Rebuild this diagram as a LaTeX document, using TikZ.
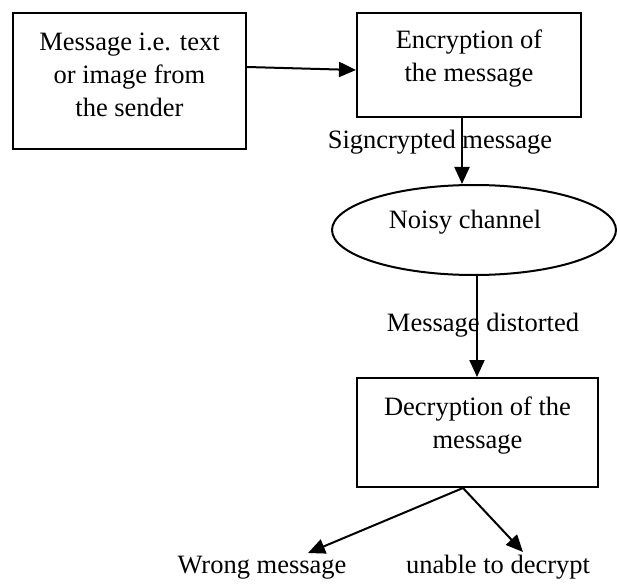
\documentclass[tikz,border=0pt]{standalone}
\usepackage{fontspec}
\setmainfont{Liberation Serif}
\usetikzlibrary{arrows.meta,shapes.geometric}
\begin{document}
\begin{tikzpicture}[x=1pt,y=-1pt,
  line width=2pt,
  box/.style={draw, rectangle, inner sep=0pt},
  txt/.style={align=center, inner sep=0pt, font=\fontsize{26.5}{33}\selectfont},
  arr/.style={-{Triangle[length=17pt,width=15pt]}}]
  \useasboundingbox (0,0) rectangle (617,585);

  % blocks
  \node[box, minimum width=233, minimum height=136] (b1) at (129.5,81) {};
  \node[txt] (t1) at (129.5,75) {Message i.e. text\\or image from\\the sender};

  \node[box, minimum width=224, minimum height=104] (b2) at (469,65) {};
  \node[txt] (t2) at (469,59) {Encryption of\\the message};

  \node[draw, ellipse, inner sep=0pt, minimum width=284, minimum height=90] (ch) at (474,230) {};
  \node[txt] (t3) at (465,222) {Noisy channel};

  \node[box, minimum width=241, minimum height=109] (b3) at (477.5,432.5) {};
  \node[txt] (t4) at (477.5,426) {Decryption of the\\message};

  % edge labels and outcomes
  \node[txt] (l1) at (440,142) {Signcrypted message};
  \node[txt] (l2) at (483,325) {Message distorted};
  \node[txt] (o1) at (262,568) {Wrong message};
  \node[txt] (o2) at (498,567) {unable to decrypt};

  \coordinate (e1) at (308,553);
  \coordinate (e2) at (523,552);

  % connectors
  \draw[arr] ([yshift=14]b1.east) -- ([yshift=-5]b2.west);
  \draw[arr] ([xshift=-7]b2.south) -- ([xshift=-12]ch.north);
  \draw[arr] ([xshift=3]ch.south) -- ([xshift=-0.5]b3.north);
  \draw[arr] ([xshift=-14.5]b3.south) -- (e1);
  \draw[arr] ([xshift=-14.5]b3.south) -- (e2);
\end{tikzpicture}
\end{document}
